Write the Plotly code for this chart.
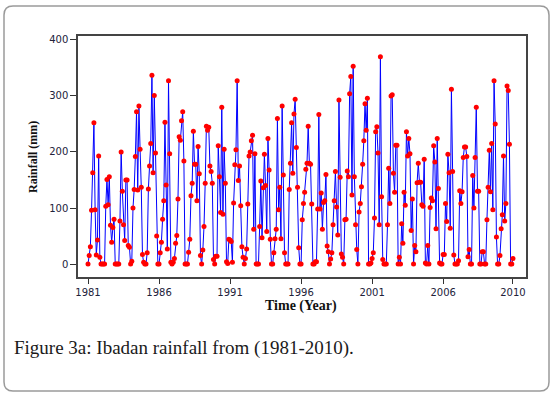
import plotly.graph_objects as go

# Monthly rainfall (mm), Ibadan, Jan..Dec for each year
r1981 = [0, 15, 31, 96, 163, 252, 97, 16, 43, 193, 12, 0]
r1982 = [0, 0, 0, 103, 151, 106, 156, 69, 39, 65, 80, 0]
r1983 = [0, 0, 0, 77, 200, 130, 70, 42, 150, 150, 33, 30]
r1984 = [0, 5, 100, 133, 192, 272, 132, 282, 205, 137, 17, 3]
r1985 = [0, 0, 20, 134, 175, 215, 337, 163, 301, 198, 50, 0]
r1986 = [0, 20, 39, 80, 113, 253, 141, 27, 327, 197, 3, 0]
r1987 = [3, 10, 37, 51, 116, 227, 221, 256, 272, 184, 0, 0]
r1988 = [0, 21, 44, 122, 144, 237, 178, 178, 113, 210, 161, 15]
r1989 = [0, 25, 67, 144, 246, 239, 244, 175, 165, 144, 8, 0]
r1990 = [14, 14, 211, 156, 92, 280, 89, 205, 144, 4, 1, 44]
r1991 = [43, 40, 3, 109, 177, 204, 327, 149, 175, 104, 31, 12]
r1992 = [0, 10, 27, 107, 193, 200, 220, 230, 62, 197, 0, 0]
r1993 = [0, 67, 148, 47, 136, 196, 140, 58, 224, 168, 44, 0]
r1994 = [0, 20, 45, 62, 260, 97, 137, 45, 282, 159, 20, 0]
r1995 = [0, 0, 133, 180, 252, 162, 268, 294, 208, 137, 29, 0]
r1996 = [0, 79, 108, 128, 169, 180, 246, 180, 178, 107, 0, 0]
r1997 = [4, 4, 98, 267, 98, 127, 62, 110, 113, 160, 32, 22]
r1998 = [0, 9, 20, 70, 113, 165, 102, 52, 293, 155, 18, 12]
r1999 = [0, 79, 80, 166, 156, 304, 335, 123, 353, 156, 70, 26]
r2000 = [0, 93, 108, 138, 178, 220, 286, 239, 296, 0, 0, 2]
r2001 = [10, 20, 82, 236, 245, 198, 70, 370, 120, 8, 0, 0]
r2002 = [0, 70, 171, 108, 300, 302, 162, 128, 212, 212, 0, 12]
r2003 = [0, 72, 37, 128, 105, 236, 193, 224, 197, 60, 116, 0]
r2004 = [33, 22, 145, 180, 146, 146, 106, 103, 187, 2, 0, 33]
r2005 = [0, 101, 118, 113, 211, 182, 63, 224, 135, 2, 0, 0]
r2006 = [17, 17, 108, 76, 196, 163, 64, 312, 165, 16, 0, 0]
r2007 = [0, 6, 131, 108, 129, 190, 209, 209, 192, 13, 26, 0]
r2008 = [0, 158, 100, 190, 280, 130, 130, 0, 0, 22, 22, 0]
r2009 = [0, 79, 137, 203, 129, 215, 97, 327, 250, 48, 0, 0]
r2010 = [15, 63, 88, 193, 77, 108, 318, 310, 214, 0, 0, 10]

tick_index = [1, 61, 121, 181, 241, 301, 360]
tick_labels = ["1981", "1986", "1991", "1996", "2001", "2006", "2010"]
y_ticks = [0, 100, 200, 300, 400]

rainfall = (r1981 + r1982 + r1983 + r1984 + r1985 + r1986 + r1987 + r1988 +
            r1989 + r1990 + r1991 + r1992 + r1993 + r1994 + r1995 + r1996 +
            r1997 + r1998 + r1999 + r2000 + r2001 + r2002 + r2003 + r2004 +
            r2005 + r2006 + r2007 + r2008 + r2009 + r2010)
month_index = list(range(1, len(rainfall) + 1))

W, H = 553, 396
L, R, T, B = 78, 27, 36, 119
PW, PH = W - L - R, H - T - B


def px(x):
    return (x - L) / PW


def py(y):
    return (H - B - y) / PH


fig = go.Figure()
fig.add_trace(go.Scatter(
    x=month_index, y=rainfall, mode="lines+markers",
    line=dict(color="#0000FF", width=1),
    marker=dict(color="#FF0000", size=5, line=dict(width=0)),
    showlegend=False, hoverinfo="x+y",
))

tick_font = dict(family="DejaVu Sans", size=10, color="#22223a")
fig.update_xaxes(
    range=[-7.45, 371], tickmode="array", tickvals=tick_index, ticktext=tick_labels,
    ticks="outside", ticklen=5, tickwidth=1, tickcolor="#333333",
    showline=True, linecolor="#444444", linewidth=1.5, mirror=True,
    showgrid=False, zeroline=False, tickfont=tick_font,
)
fig.update_yaxes(
    range=[-23.2, 407.1], tickmode="array", tickvals=y_ticks,
    ticks="outside", ticklen=6, tickwidth=1, tickcolor="#333333",
    showline=True, linecolor="#444444", linewidth=1.5, mirror=True,
    showgrid=False, zeroline=False, tickfont=tick_font,
)

# rounded outer frame
x0, y0, x1, y1, rr = 4, 6, 549, 391, 9
pts = [
    f"M {px(x0 + rr)},{py(y0)}",
    f"L {px(x1 - rr)},{py(y0)}",
    f"Q {px(x1)},{py(y0)} {px(x1)},{py(y0 + rr)}",
    f"L {px(x1)},{py(y1 - rr)}",
    f"Q {px(x1)},{py(y1)} {px(x1 - rr)},{py(y1)}",
    f"L {px(x0 + rr)},{py(y1)}",
    f"Q {px(x0)},{py(y1)} {px(x0)},{py(y1 - rr)}",
    f"L {px(x0)},{py(y0 + rr)}",
    f"Q {px(x0)},{py(y0)} {px(x0 + rr)},{py(y0)} Z",
]
fig.add_shape(type="path", xref="paper", yref="paper", path=" ".join(pts),
              line=dict(color="#9a9a9a", width=1.5), fillcolor="rgba(0,0,0,0)",
              layer="below")

serif = "Liberation Serif"
fig.add_annotation(x=px(301), y=py(306), xref="paper", yref="paper",
                   text="<b>Time (Year)</b>", showarrow=False,
                   xanchor="center", yanchor="middle",
                   font=dict(family=serif, size=14, color="#111111"))
fig.add_annotation(x=px(33), y=py(157), xref="paper", yref="paper",
                   text="<b>Rainfall (mm)</b>", showarrow=False, textangle=-90,
                   xanchor="center", yanchor="middle",
                   font=dict(family=serif, size=12, color="#111111"))
fig.add_annotation(x=px(12), y=py(348), xref="paper", yref="paper",
                   text="Figure 3a: Ibadan rainfall from (1981-2010).",
                   showarrow=False, xanchor="left", yanchor="middle",
                   font=dict(family=serif, size=19, color="#1a1a1a"))

fig.update_layout(
    width=W, height=H, margin=dict(l=L, r=R, t=T, b=B, pad=0),
    paper_bgcolor="white", plot_bgcolor="white",
)

fig.write_html("out.html", config={"displayModeBar": False},
               post_script="document.body.style.margin='0';document.body.style.overflow='hidden';")
